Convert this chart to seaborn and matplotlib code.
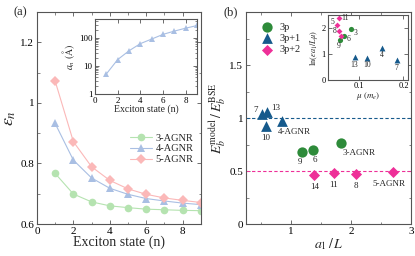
import matplotlib
matplotlib.use("Agg")
import matplotlib.pyplot as plt
import seaborn as sns
import numpy as np
import pandas as pd

# ---------------- data ----------------
states = [1, 2, 3, 4, 5, 6, 7, 8, 9]
eps_3 = [0.767, 0.699, 0.673, 0.660, 0.654, 0.649, 0.647, 0.645, 0.644]
eps_4 = [0.932, 0.811, 0.752, 0.718, 0.698, 0.684, 0.676, 0.669, 0.664]
eps_5 = [1.072, 0.872, 0.789, 0.744, 0.716, 0.698, 0.686, 0.678, 0.671]
radius_4 = [5.2, 17, 35, 63, 92, 135, 177, 225, 280]

p0_x = [1.18, 1.37, 1.83]
p0_y = [0.68, 0.70, 0.765]
p0_lab = ["9", "6", "3-AGNR"]
p1_x = [0.51, 0.60, 0.58, 0.85]
p1_y = [1.04, 1.06, 0.92, 0.97]
p1_lab = ["7", "13", "10", "4-AGNR"]
p2_x = [1.39, 1.71, 2.09, 2.70]
p2_y = [0.462, 0.478, 0.474, 0.493]
p2_lab = ["14", "11", "8", "5-AGNR"]

mu0 = [0.057, 0.066, 0.081]
ln0 = [1.54, 1.71, 1.96]
lab_mu0 = ["9", "6", "3"]
mu1 = [0.185, 0.090, 0.119, 0.151]
ln1 = [0.75, 0.87, 0.86, 1.24]
lab_mu1 = ["7", "13", "10", "4"]
mu2 = [0.0545, 0.050, 0.055, 0.060]
ln2 = [2.38, 2.11, 1.90, 1.71]
lab_mu2 = ["11", "5", "8", ""]

# ---------------- style ----------------
sns.set_style("ticks")
plt.rcParams["font.family"] = ["Liberation Serif", "DejaVu Serif"]
plt.rcParams["mathtext.fontset"] = "stix"
plt.rcParams["axes.edgecolor"] = "#555555"
plt.rcParams["axes.linewidth"] = 0.8
plt.rcParams["xtick.color"] = "#555555"
plt.rcParams["ytick.color"] = "#555555"
plt.rcParams["xtick.labelcolor"] = "black"
plt.rcParams["ytick.labelcolor"] = "black"

c3l, c4l, c5l = "#b5e3b0", "#a9bfe3", "#fbb8b8"
cg, cb, cp = "#2e8b3a", "#165a8c", "#ee2f98"

fig = plt.figure(figsize=(4.15, 2.56), dpi=100)

def style(ax, fs, pad=2):
    ax.tick_params(direction="in", top=True, right=True, labelsize=fs, length=3, width=0.6, pad=pad)
    ax.tick_params(which="minor", direction="in", top=True, right=True, length=1.8, width=0.5)

# ---- panel (a) ----
axA = fig.add_axes([0.089, 0.125, 0.395, 0.828])
dfA = pd.DataFrame({"n": states * 3,
                    "eps": eps_3 + eps_4 + eps_5,
                    "ribbon": ["3-AGNR"] * 9 + ["4-AGNR"] * 9 + ["5-AGNR"] * 9})
sns.lineplot(data=dfA, x="n", y="eps", hue="ribbon", style="ribbon",
             palette=[c3l, c4l, c5l], markers=["o", "^", "D"], dashes=False,
             markersize=5.5, markeredgewidth=0, linewidth=0.8, ax=axA)
axA.set_xlim(0, 9)
axA.set_ylim(0.6, 1.3)
axA.set_xticks([0, 2, 4, 6, 8])
axA.set_xticks([1, 3, 5, 7, 9], minor=True)
axA.set_yticks([0.6, 0.8, 1.0, 1.2])
axA.set_yticklabels(["0.6", "0.8", "1", "1.2"])
axA.set_yticks([0.7, 0.9, 1.1], minor=True)
style(axA, 8)
axA.set_xlabel("Exciton state (n)", fontsize=10, labelpad=0)
axA.set_ylabel(r"$\varepsilon_n$", fontsize=13, labelpad=2)
leg = axA.legend(loc="center right", bbox_to_anchor=(1.0, 0.355), frameon=False,
                 fontsize=7.5, handlelength=2.2, handletextpad=0.3, labelspacing=0.15, borderpad=0.2)
axA.text(-0.14, 1.0, "(a)", transform=axA.transAxes, fontsize=9, va="center")

# inset (a)
inA = fig.add_axes([0.229, 0.633, 0.246, 0.293])
sns.lineplot(x=states, y=radius_4, color=c4l, marker="^", markersize=5,
             markeredgewidth=0, linewidth=0.8, ax=inA)
inA.set_yscale("log")
inA.set_xlim(0, 9)
inA.set_ylim(1, 480)
inA.set_xticks([0, 2, 4, 6, 8])
inA.set_yticks([1, 10, 100])
inA.set_yticklabels(["1", "10", "100"])
style(inA, 6.5)
inA.set_xlabel("Exciton state (n)", fontsize=7, labelpad=0)
inA.set_ylabel(r"$a_n\ (\mathrm{\AA})$", fontsize=7, labelpad=1)

# ---- panel (b) ----
axB = fig.add_axes([0.593, 0.125, 0.397, 0.828])
axB.axhline(1.0, color=cb, ls="--", lw=0.8, dashes=(3, 2))
axB.axhline(0.5, color=cp, ls="--", lw=0.8, dashes=(3, 2))
sns.scatterplot(x=p0_x, y=p0_y, color=cg, marker="o", s=55, linewidth=0, ax=axB, label="3p")
sns.scatterplot(x=p1_x, y=p1_y, color=cb, marker="^", s=60, linewidth=0, ax=axB, label="3p+1")
sns.scatterplot(x=p2_x, y=p2_y, color=cp, marker="D", s=32, linewidth=0, ax=axB, label="3p+2")
axB.set_xlim(0.25, 3)
axB.set_ylim(0, 2.0)
axB.set_xticks([1, 2, 3])
axB.set_xticks([0.5, 1.5, 2.5], minor=True)
axB.set_yticks([0, 0.5, 1.0, 1.5])
axB.set_yticklabels(["0", "0.5", "1", "1.5"])
axB.set_yticks([0.25, 0.75, 1.25, 1.75], minor=True)
style(axB, 8)
axB.set_xlabel(r"$a_1\,/\,L$", fontsize=10, labelpad=0)
axB.set_ylabel(r"$E_b^{\rm model}\,/\,E_b^{\rm BSE}$", fontsize=10, labelpad=1)
axB.legend(loc="upper left", bbox_to_anchor=(0.0, 1.0), frameon=False, fontsize=7.5,
           handletextpad=0.2, labelspacing=0.2, borderpad=0.5, markerscale=1.0)
axB.text(-0.14, 1.0, "(b)", transform=axB.transAxes, fontsize=9, va="center")

fsl = 6.5
# 3p labels
axB.annotate(p0_lab[0], (p0_x[0], p0_y[0]), xytext=(-1, -9), textcoords="offset points", fontsize=fsl, ha="center")
axB.annotate(p0_lab[1], (p0_x[1], p0_y[1]), xytext=(1, -9), textcoords="offset points", fontsize=fsl, ha="center")
axB.annotate(p0_lab[2], (p0_x[2], p0_y[2]), xytext=(1, -9), textcoords="offset points", fontsize=fsl, ha="left")
# 3p+1 labels
axB.annotate(p1_lab[0], (p1_x[0], p1_y[0]), xytext=(-3, 1), textcoords="offset points", fontsize=fsl, ha="right")
axB.annotate(p1_lab[1], (p1_x[1], p1_y[1]), xytext=(3, 1), textcoords="offset points", fontsize=fsl, ha="left")
axB.annotate(p1_lab[2], (p1_x[2], p1_y[2]), xytext=(0, -10), textcoords="offset points", fontsize=fsl, ha="center")
axB.annotate(p1_lab[3], (p1_x[3], p1_y[3]), xytext=(-3, -9), textcoords="offset points", fontsize=fsl, ha="left")
# 3p+2 labels
for i in range(3):
    axB.annotate(p2_lab[i], (p2_x[i], p2_y[i]), xytext=(0, -10), textcoords="offset points", fontsize=fsl, ha="center")
axB.annotate(p2_lab[3], (p2_x[3], p2_y[3]), xytext=(-3, -10), textcoords="offset points", fontsize=fsl, ha="center")

# inset (b)
inB = fig.add_axes([0.790, 0.6875, 0.193, 0.254])
sns.scatterplot(x=mu0, y=ln0, color=cg, marker="o", s=14, linewidth=0, ax=inB)
sns.scatterplot(x=mu1, y=ln1, color=cb, marker="^", s=18, linewidth=0, ax=inB)
sns.scatterplot(x=mu2, y=ln2, color=cp, marker="D", s=9, linewidth=0, ax=inB)
inB.set_xlim(0.03, 0.21)
inB.set_ylim(0, 2.5)
inB.set_xticks([0.1, 0.2])
inB.set_xticklabels(["0.1", "0.2"])
inB.set_yticks([0, 1, 2])
style(inB, 6, pad=1.5)
inB.set_xlabel(r"$\mu\ (m_e)$", fontsize=6.5, labelpad=0)
inB.set_ylabel(r"$\ln(\varepsilon a_1/L\mu)$", fontsize=6, labelpad=1)
fsi = 5.5
inB.annotate(lab_mu0[0], (mu0[0], ln0[0]), xytext=(-1, -6), textcoords="offset points", fontsize=fsi, ha="center")
inB.annotate(lab_mu0[1], (mu0[1], ln0[1]), xytext=(2, -4), textcoords="offset points", fontsize=fsi, ha="left")
inB.annotate(lab_mu0[2], (mu0[2], ln0[2]), xytext=(2, -4), textcoords="offset points", fontsize=fsi, ha="left")
for i in range(4):
    inB.annotate(lab_mu1[i], (mu1[i], ln1[i]), xytext=(0, -7), textcoords="offset points", fontsize=fsi, ha="center")
inB.annotate(lab_mu2[0], (mu2[0], ln2[0]), xytext=(2, -1.5), textcoords="offset points", fontsize=fsi, ha="left")
inB.annotate(lab_mu2[1], (mu2[1], ln2[1]), xytext=(-1.5, 0.5), textcoords="offset points", fontsize=fsi, ha="right")
inB.annotate(lab_mu2[2], (mu2[2], ln2[2]), xytext=(-2, -1.5), textcoords="offset points", fontsize=fsi, ha="right")

fig.savefig("out.png", dpi=100)
